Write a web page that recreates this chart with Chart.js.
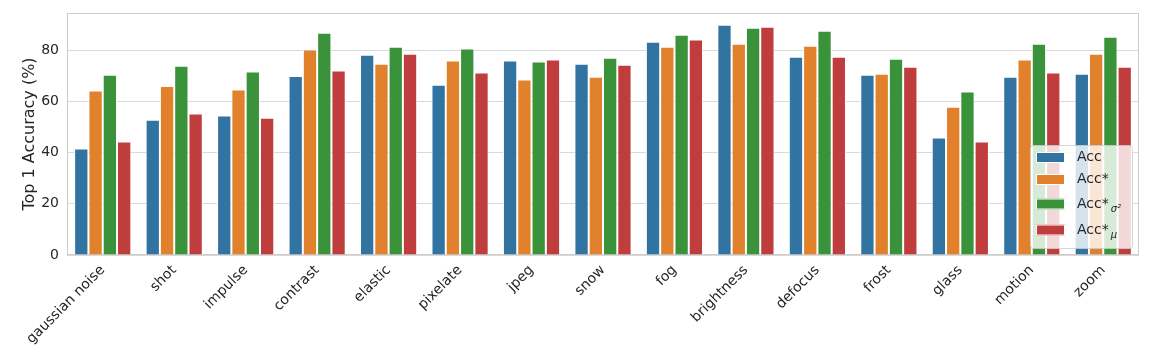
<!DOCTYPE html>
<html>
<head>
<meta charset="utf-8">
<script src="https://cdn.jsdelivr.net/npm/chart.js@4/dist/chart.umd.min.js"></script>
<style>
  html, body { margin: 0; padding: 0; background: #fff; }
  #wrap { width: 1152px; height: 360px; }
</style>
</head>
<body>
<div id="wrap"><canvas id="chart" width="1152" height="360"></canvas></div>
<script>
const categories = ["gaussian noise", "shot", "impulse", "contrast", "elastic", "pixelate", "jpeg", "snow",
    "fog", "brightness", "defocus", "frost", "glass", "motion", "zoom"];

const acc      = [41.6, 52.9, 54.5, 70.0, 78.3, 66.6, 76.0, 74.8, 83.4, 90.0, 77.5, 70.5, 45.9, 69.7, 70.9];
const accStar  = [64.3, 66.1, 64.7, 80.3, 74.8, 76.0, 68.6, 69.7, 81.4, 82.6, 81.8, 70.9, 58.0, 76.4, 78.7];
const accSigma = [70.5, 74.0, 71.7, 86.9, 81.4, 80.7, 75.6, 77.1, 86.1, 88.8, 87.7, 76.7, 63.9, 82.6, 85.3];
const accMu    = [44.4, 55.3, 53.7, 72.1, 78.7, 71.3, 76.4, 74.4, 84.2, 89.2, 77.5, 73.6, 44.4, 71.3, 73.6];

const yTicks = [0, 20, 40, 60, 80];

// legend entries: main text + subscript
const legendItems = [
    { text: "Acc", sub: "" },
    { text: "Acc*", sub: "" },
    { text: "Acc*", sub: "σ²" },
    { text: "Acc*", sub: "μ" }
];
const colors = ["#3274a1", "#e1812c", "#3a923a", "#c03d3e"];
const FONT = "'DejaVu Sans', sans-serif";

// draw frame + custom legend with subscripts
const framePlugin = {
    id: "frame",
    beforeDatasetsDraw(chart) {
        const a = chart.chartArea;
        const ctx = chart.ctx;
        ctx.save();
        ctx.strokeStyle = "#cccccc";
        ctx.lineWidth = 1;
        ctx.strokeRect(Math.round(a.left) + 0.5, Math.round(a.top) + 0.5,
            Math.round(a.right - a.left) - 1, Math.round(a.bottom - a.top) - 1);
        ctx.restore();
    },
    afterDraw(chart) {
        const ctx = chart.ctx;
        const a = chart.chartArea;
        const boxW = 102, boxH = 103;
        const x0 = a.right - 7 - boxW, y0 = a.bottom - 7 - boxH;
        ctx.save();
        ctx.fillStyle = "rgba(255,255,255,0.8)";
        ctx.strokeStyle = "rgba(204,204,204,0.8)";
        ctx.lineWidth = 1;
        ctx.beginPath();
        ctx.roundRect(x0 + 0.5, y0 + 0.5, boxW, boxH, 3);
        ctx.fill();
        ctx.stroke();

        const rows = [12.5, 34.5, 59, 85];
        legendItems.forEach((it, i) => {
            const cy = y0 + rows[i];
            ctx.fillStyle = colors[i];
            ctx.fillRect(x0 + 6, cy - 5.5, 29, 11);
            ctx.strokeStyle = "#ffffff";
            ctx.strokeRect(x0 + 6.5, cy - 5, 28, 10);
            ctx.fillStyle = "#262626";
            ctx.font = "14px " + FONT;
            ctx.textBaseline = "middle";
            ctx.textAlign = "left";
            ctx.fillText(it.text, x0 + 47, cy);
            if (it.sub) {
                const w = ctx.measureText(it.text).width;
                ctx.font = "italic 10px " + FONT;
                ctx.fillText(it.sub, x0 + 49 + w, cy + 5);
            }
        });
        ctx.restore();
    }
};

const datasets = [acc, accStar, accSigma, accMu].map((d, i) => ({
    label: legendItems[i].text + legendItems[i].sub,
    data: d,
    backgroundColor: colors[i],
    borderColor: "#ffffff",
    borderWidth: 1,
    categoryPercentage: 0.8,
    barPercentage: 1.0
}));

new Chart(document.getElementById("chart"), {
    type: "bar",
    data: { labels: categories, datasets: datasets },
    options: {
        responsive: false,
        animation: false,
        layout: { padding: { top: 13, right: 13, left: 0, bottom: 0 } },
        plugins: {
            legend: { display: false },
            tooltip: { enabled: false }
        },
        scales: {
            x: {
                grid: { display: false, drawTicks: false },
                border: { display: false },
                ticks: {
                    minRotation: 45, maxRotation: 45,
                    color: "#262626",
                    padding: 7,
                    font: { family: FONT, size: 14 }
                },
                afterFit(scale) {
                    scale.height = 105;
                    scale.paddingLeft = 0; scale.paddingRight = 0;
                }
            },
            y: {
                min: 0,
                max: 94.6,
                grid: { color: "#d9d9d9", drawTicks: false },
                border: { display: false },
                afterBuildTicks(scale) {
                    scale.ticks = yTicks.map(v => ({ value: v }));
                },
                ticks: {
                    color: "#262626",
                    padding: 8,
                    font: { family: FONT, size: 14 }
                },
                title: {
                    display: true,
                    text: "Top 1 Accuracy (%)",
                    color: "#262626",
                    font: { family: FONT, size: 16 },
                    padding: { top: 20, bottom: 0 }
                },
                afterFit(scale) {
                    scale.width = 67;
                    scale.paddingTop = 0; scale.paddingBottom = 0;
                }
            }
        }
    },
    plugins: [framePlugin]
});
</script>
</body>
</html>
